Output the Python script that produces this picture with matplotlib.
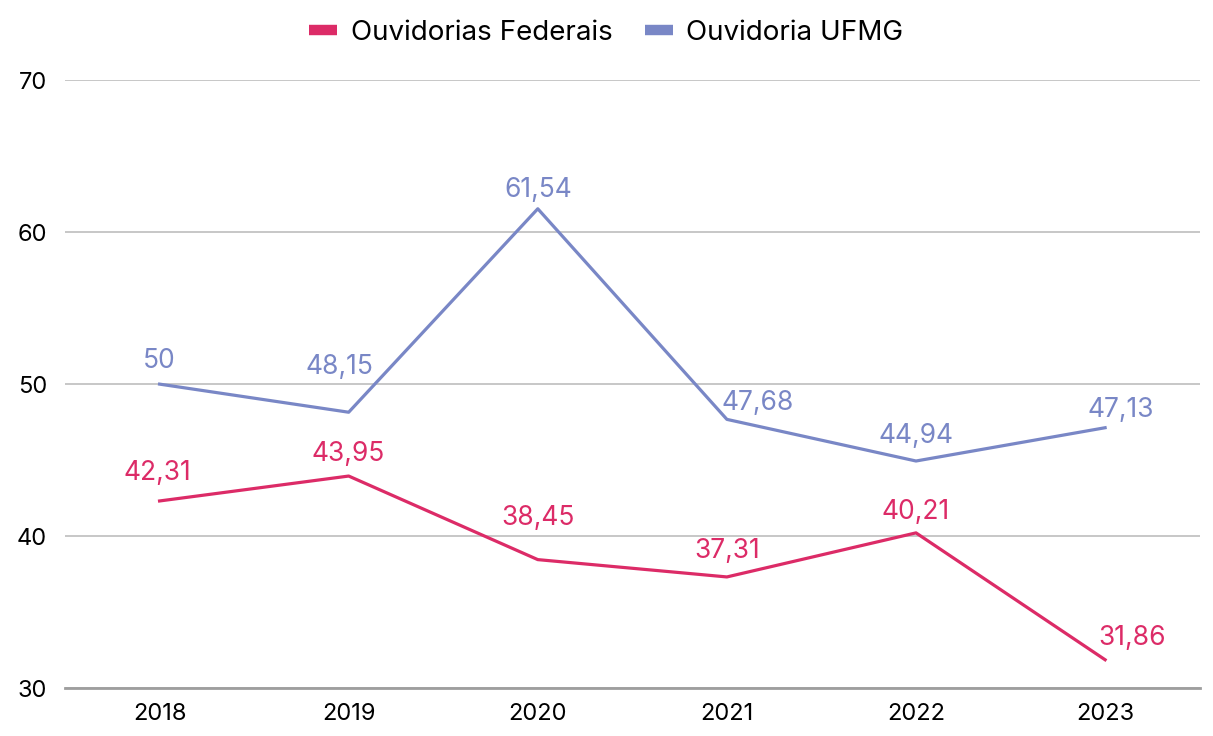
import matplotlib.pyplot as plt

years = ["2018", "2019", "2020", "2021", "2022", "2023"]
federais = [42.31, 43.95, 38.45, 37.31, 40.21, 31.86]
ufmg = [50, 48.15, 61.54, 47.68, 44.94, 47.13]
yticks = [30, 40, 50, 60, 70]

pink = "#DC2B67"
blue = "#7987C6"

# label nudges in pixels (dx, dy up), to keep text off the lines
fed_off = [(-2, 31), (-1, 25), (0, 45), (0, 29), (0, 24), (27, 25)]
ufmg_off = [(0, 26), (-9, 48), (0, 22), (31, 19), (0, 28), (16, 21)]

plt.rcParams['font.family'] = ['Inter', 'DejaVu Sans']

fig = plt.figure(figsize=(12.13, 7.36), dpi=100)
ax = fig.add_axes([0.0536, 0.0652, 0.9354, 0.8258])

x = range(len(years))
ax.plot(x, federais, color=pink, lw=2.3, label="Ouvidorias Federais")
ax.plot(x, ufmg, color=blue, lw=2.3, label="Ouvidoria UFMG")

def fmt(v):
    s = f"{v:.2f}".rstrip("0").rstrip(".")
    return s.replace(".", ",")

px = 72 / 100
for series, offs, col in [(federais, fed_off, pink), (ufmg, ufmg_off, blue)]:
    for i, v in enumerate(series):
        dx, dy = offs[i]
        ax.annotate(fmt(v), (i, v), xytext=(dx * px, dy * px), textcoords="offset points",
                    ha="center", va="center_baseline", color=col, fontsize=19)

ax.set_xlim(-0.5, 5.5)
ax.set_ylim(30, 70)
ax.set_yticks(yticks)
ax.set_xticks(list(x))
ax.set_xticklabels(years)
ax.grid(axis="y", color="#BDBDBD", lw=1.2)
ax.set_axisbelow(True)
for s in ["top", "right", "left"]:
    ax.spines[s].set_visible(False)
ax.spines["bottom"].set_color("#9E9E9E")
ax.spines["bottom"].set_linewidth(2)
ax.tick_params(axis="both", length=0, labelsize=17)
ax.tick_params(axis="x", pad=11)
ax.tick_params(axis="y", pad=13)

leg = fig.legend(loc="center", bbox_to_anchor=(0.5, 0.955), ncol=2, frameon=False,
                 fontsize=20, handlelength=1.0, columnspacing=1.15,
                 handletextpad=0.5)
for h in leg.legend_handles:
    h.set_linewidth(7.5)
    h.set_solid_capstyle("butt")

fig.savefig("out.png", dpi=100)
